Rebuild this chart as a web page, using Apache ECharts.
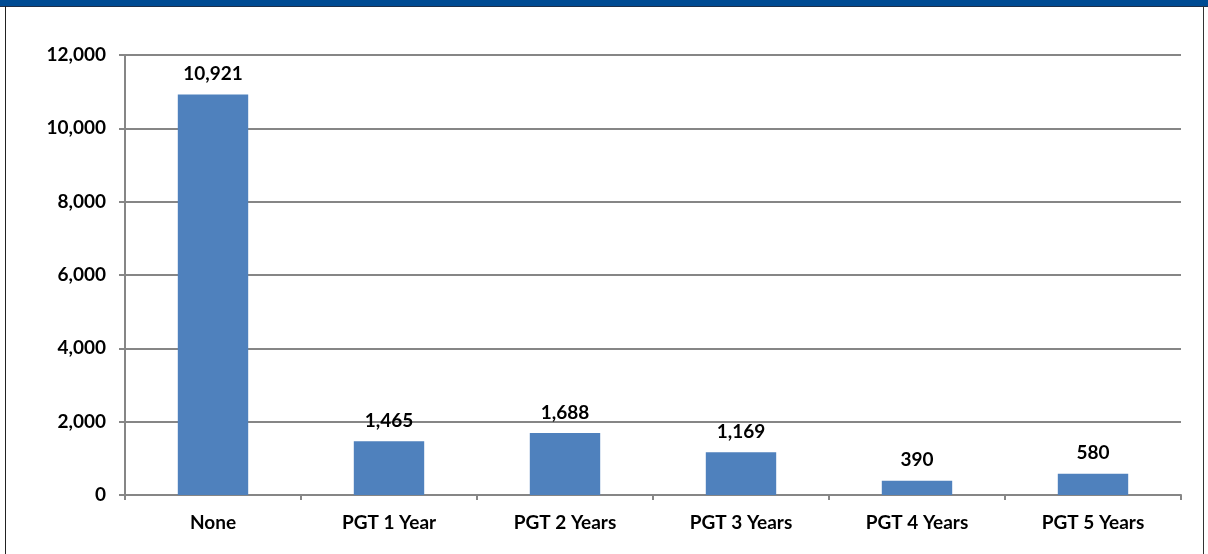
<!DOCTYPE html>
<html><head><meta charset="utf-8">
<script src="https://cdn.jsdelivr.net/npm/echarts@6/dist/echarts.min.js"></script>
<style>
html,body{margin:0;padding:0;background:#fff;}
#wrap{position:absolute;left:0;top:0;width:1208px;height:554px;}
#hdr{position:absolute;left:0;top:0;width:1208px;height:6px;background:#004b93;border-bottom:1px solid #1f2f4a;}
#lb{position:absolute;left:5px;top:6px;width:1px;height:548px;background:#222;}
#rb{position:absolute;left:1203px;top:6px;width:1px;height:548px;background:#333;}
#chart{position:absolute;left:0;top:0;width:1208px;height:554px;}
</style></head>
<body><div id="wrap"><div id="chart"></div><div id="hdr"></div><div id="lb"></div><div id="rb"></div></div>
<script>
const categories = ['None','PGT 1 Year','PGT 2 Years','PGT 3 Years','PGT 4 Years','PGT 5 Years'];
const values = [10921, 1465, 1688, 1169, 390, 580];
const yTicks = [0, 2000, 4000, 6000, 8000, 10000, 12000];

const fmt = v => v.toLocaleString('en-US');
const FONT = 'Lato, "Open Sans", sans-serif';
const chart = echarts.init(document.getElementById('chart'), null, {renderer:'canvas'});
chart.setOption({
  animation:false,
  grid:{left:125, right:27, top:55, bottom:59, containLabel:false},
  xAxis:{
    type:'category', data:categories,
    axisLine:{show:true, lineStyle:{color:'#868686', width:2}},
    axisTick:{show:true, alignWithLabel:false, length:5, lineStyle:{color:'#868686', width:2}},
    axisLabel:{color:'#000', fontFamily:FONT, fontWeight:'bold', fontSize:19, margin:18}
  },
  yAxis:{
    type:'value', min:yTicks[0], max:yTicks[yTicks.length-1], interval:2000,
    axisLine:{show:true, lineStyle:{color:'#868686', width:2}},
    axisTick:{show:true, length:6, lineStyle:{color:'#868686', width:2}},
    splitLine:{show:true, lineStyle:{color:'#868686', width:2}},
    axisLabel:{color:'#000', fontFamily:FONT, fontWeight:'bold', fontSize:19, margin:19, formatter:v=>fmt(v)}
  },
  series:[{
    type:'bar', data:values, barWidth:'40%',
    itemStyle:{color:'#4f81bd'},
    label:{show:true, position:'top', distance:11, color:'#000', fontFamily:FONT, fontWeight:'bold', fontSize:19, formatter:p=>fmt(p.value)}
  }]
});
</script></body></html>
